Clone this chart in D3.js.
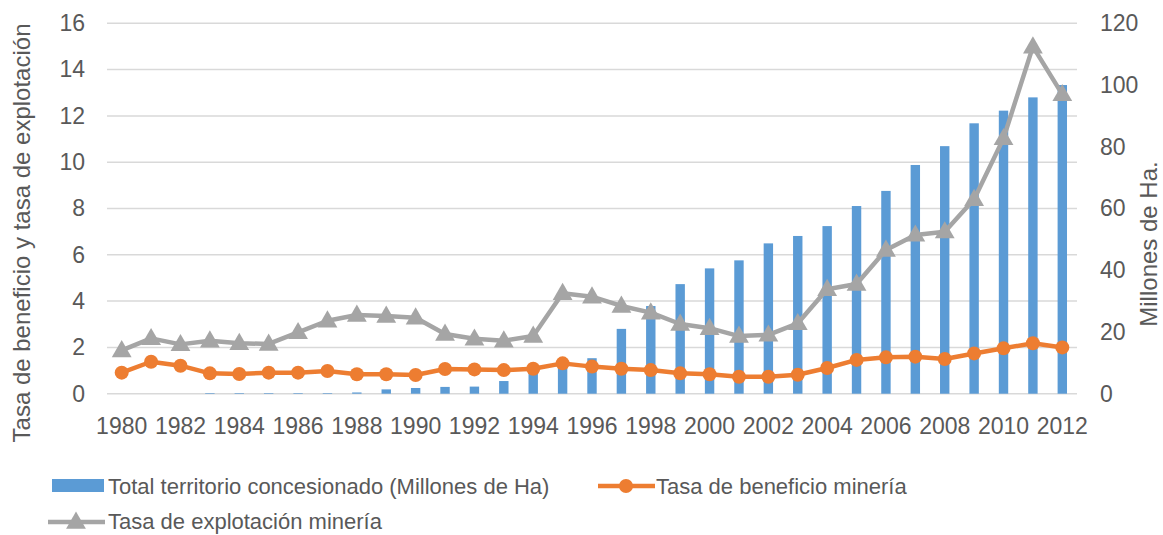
<!DOCTYPE html>
<html>
<head>
<meta charset="utf-8">
<script src="https://cdn.jsdelivr.net/npm/d3@7"></script>
<style>
	body { margin: 0; background: #fff; }
	svg text { font-family: "Liberation Sans", Arial, sans-serif; fill: #595959; }
</style>
</head>
<body>
<svg id="chart" width="1163" height="535"></svg>
<script>
'use strict';
(function() {
	//Data
	var years = d3.range(1980, 2013);
	var territorio = [0, 0, 0, 0.2, 0.2, 0.2, 0.2, 0.2, 0.4, 1.4, 1.85, 2.2, 2.3, 4.1, 8.5,
		10, 11.5, 21, 28.4, 35.5, 40.6, 43.2, 48.7, 51.1, 54.3, 60.8, 65.7, 74.1, 80.2,
		87.6, 91.7, 96, 100];
	var beneficio = [0.91, 1.38, 1.21, 0.88, 0.85, 0.91, 0.91, 0.98, 0.84, 0.84, 0.81, 1.07,
		1.05, 1.02, 1.08, 1.31, 1.17, 1.08, 1.02, 0.88, 0.84, 0.73, 0.73, 0.82, 1.11, 1.46,
		1.57, 1.6, 1.5, 1.74, 1.96, 2.18, 2.0];
	var explotacion = [1.87, 2.39, 2.13, 2.29, 2.18, 2.15, 2.65, 3.15, 3.4, 3.36, 3.28, 2.58,
		2.37, 2.29, 2.49, 4.34, 4.19, 3.79, 3.5, 3.01, 2.83, 2.49, 2.54, 3.04, 4.51, 4.74,
		6.21, 6.86, 7.0, 8.4, 11.03, 14.99, 12.93];
	var leftTicks = d3.range(0, 17, 2);
	var rightTicks = d3.range(0, 121, 20);
	var xLabels = years.filter(function(y) { return y % 2 === 0; });

	var names = {
		bar: "Total territorio concesionado (Millones de Ha)",
		ben: "Tasa de beneficio minería",
		exp: "Tasa de explotación minería",
		left: "Tasa de beneficio y tasa de explotación",
		right: "Millones de Ha."
	};

	var colors = { bar: "#5B9BD5", ben: "#ED7D31", exp: "#A5A5A5", grid: "#D9D9D9" };

	var plot = { left: 107, right: 1077, top: 23.3, bottom: 393.7 };

	var svg = d3.select('#chart');

	/***************************************
	 * SCALES
	 ***************************************/
	var x = d3.scaleBand().domain(years).range([plot.left, plot.right]).paddingInner(0.68).paddingOuter(0.34);
	var xc = function(d) { return x(d) + x.bandwidth() / 2; };
	var yL = d3.scaleLinear().domain([0, 16]).range([plot.bottom, plot.top]);
	var yR = d3.scaleLinear().domain([0, 120]).range([plot.bottom, plot.top]);

	//Gridlines
	svg.append('g').selectAll('line')
		.data(leftTicks)
		.enter().append('line')
			.attr('x1', plot.left).attr('x2', plot.right)
			.attr('y1', function(d) { return yL(d); })
			.attr('y2', function(d) { return yL(d); })
			.attr('stroke', colors.grid)
			.attr('stroke-width', 1.5);

	/***************************************
	 * AXES
	 ***************************************/
	var leftAxis = svg.append('g')
		.attr('transform', 'translate(' + (plot.left - 22) + ',0)')
		.call(d3.axisLeft(yL).tickValues(leftTicks).tickSize(0).tickPadding(0));
	var rightAxis = svg.append('g')
		.attr('transform', 'translate(1100,0)')
		.call(d3.axisRight(yR).tickValues(rightTicks).tickSize(0).tickPadding(0));
	var bottomAxis = svg.append('g')
		.attr('transform', 'translate(0,' + (plot.bottom + 24) + ')')
		.call(d3.axisBottom(x).tickValues(xLabels).tickSize(0).tickPadding(0));
	[leftAxis, rightAxis, bottomAxis].forEach(function(a) {
		a.select('.domain').remove();
		a.selectAll('text').style('font-size', '23px').attr('fill', '#595959')
			.style('font-family', '"Liberation Sans", Arial, sans-serif');
	});

	//Axis titles
	svg.append('text')
		.attr('transform', 'translate(30,233) rotate(-90)')
		.attr('text-anchor', 'middle')
		.style('font-size', '24px')
		.text(names.left);
	svg.append('text')
		.attr('transform', 'translate(1157,244) rotate(-90)')
		.attr('text-anchor', 'middle')
		.style('font-size', '24px')
		.text(names.right);

	/***************************************
	 * BARS
	 ***************************************/
	svg.append('g').selectAll('rect')
		.data(territorio)
		.enter().append('rect')
			.attr('x', function(d, i) { return x(years[i]); })
			.attr('width', x.bandwidth())
			.attr('y', function(d) { return yR(d); })
			.attr('height', function(d) { return yR(0) - yR(d); })
			.attr('fill', colors.bar);

	/***************************************
	 * LINES
	 ***************************************/
	var line = function(scale) {
		return d3.line()
			.x(function(d, i) { return xc(years[i]); })
			.y(function(d) { return scale(d); });
	};
	var triangle = d3.symbol().type(d3.symbolTriangle).size(170);

	svg.append('path')
		.datum(explotacion)
		.attr('d', line(yL))
		.attr('fill', 'none')
		.attr('stroke', colors.exp)
		.attr('stroke-width', 4.5)
		.attr('stroke-linejoin', 'round');
	svg.append('g').selectAll('path')
		.data(explotacion)
		.enter().append('path')
			.attr('d', triangle)
			.attr('transform', function(d, i) { return 'translate(' + xc(years[i]) + ',' + (yL(d) + 1) + ')'; })
			.attr('fill', colors.exp);

	svg.append('path')
		.datum(beneficio)
		.attr('d', line(yL))
		.attr('fill', 'none')
		.attr('stroke', colors.ben)
		.attr('stroke-width', 4.5)
		.attr('stroke-linejoin', 'round');
	svg.append('g').selectAll('circle')
		.data(beneficio)
		.enter().append('circle')
			.attr('cx', function(d, i) { return xc(years[i]); })
			.attr('cy', function(d) { return yL(d); })
			.attr('r', 7)
			.attr('fill', colors.ben);

	/***************************************
	 * LEGEND
	 ***************************************/
	var legend = svg.append('g').style('font-size', '22px');
	legend.append('rect')
		.attr('x', 52).attr('y', 479).attr('width', 52).attr('height', 13)
		.attr('fill', colors.bar);
	legend.append('text').attr('x', 108).attr('y', 494).text(names.bar);

	legend.append('line')
		.attr('x1', 598).attr('x2', 655).attr('y1', 486).attr('y2', 486)
		.attr('stroke', colors.ben).attr('stroke-width', 4.5);
	legend.append('circle').attr('cx', 626).attr('cy', 486).attr('r', 7).attr('fill', colors.ben);
	legend.append('text').attr('x', 656).attr('y', 494).text(names.ben);

	legend.append('line')
		.attr('x1', 48).attr('x2', 105).attr('y1', 522).attr('y2', 522)
		.attr('stroke', colors.exp).attr('stroke-width', 4.5);
	legend.append('path').attr('d', triangle)
		.attr('transform', 'translate(76,523)').attr('fill', colors.exp);
	legend.append('text').attr('x', 108).attr('y', 529).text(names.exp);
})();
</script>
</body>
</html>
